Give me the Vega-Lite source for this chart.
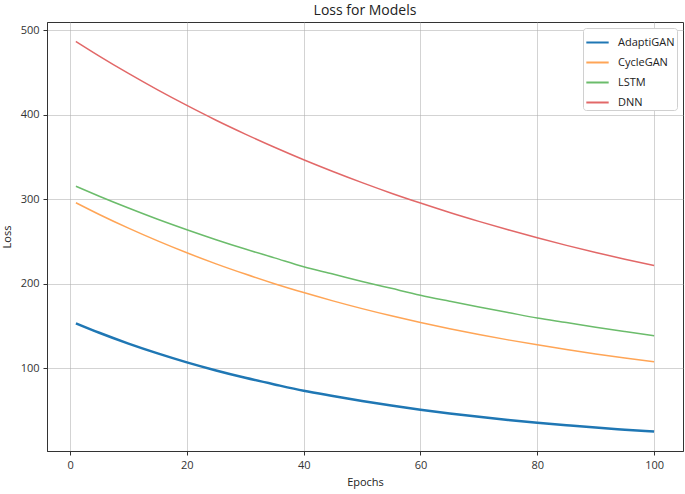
{
  "$schema": "https://vega.github.io/schema/vega-lite/v6.json",
  "autosize": "none",
  "width": 636,
  "height": 429,
  "padding": {"left": 47, "top": 22, "right": 2, "bottom": 43},
  "background": "white",
  "config": {
    "font": "Open Sans",
    "view": {"stroke": "#333", "strokeWidth": 1},
    "axis": {
      "gridColor": "#b0b0b0", "gridWidth": 0.8, "gridOpacity": 0.7,
      "domainColor": "#333", "tickColor": "#333", "tickSize": 4,
      "labelFontSize": 11, "labelColor": "#333", "labelFont": "Open Sans",
      "titleFontSize": 11, "titleFontWeight": "normal", "titleColor": "#222", "titleFont": "Open Sans"
    },
    "title": {"fontSize": 14, "fontWeight": "normal", "color": "#222", "font": "Open Sans", "offset": 4}
  },
  "title": "Loss for Models",
  "data": {"values": [
    {"epoch": 1, "model": "AdaptiGAN", "loss": 153.2},
    {"epoch": 5, "model": "AdaptiGAN", "loss": 142.0},
    {"epoch": 10, "model": "AdaptiGAN", "loss": 129.2},
    {"epoch": 15, "model": "AdaptiGAN", "loss": 117.6},
    {"epoch": 20, "model": "AdaptiGAN", "loss": 107.0},
    {"epoch": 25, "model": "AdaptiGAN", "loss": 97.4},
    {"epoch": 30, "model": "AdaptiGAN", "loss": 88.7},
    {"epoch": 35, "model": "AdaptiGAN", "loss": 80.8},
    {"epoch": 40, "model": "AdaptiGAN", "loss": 73.3},
    {"epoch": 45, "model": "AdaptiGAN", "loss": 67.1},
    {"epoch": 50, "model": "AdaptiGAN", "loss": 61.2},
    {"epoch": 55, "model": "AdaptiGAN", "loss": 55.8},
    {"epoch": 60, "model": "AdaptiGAN", "loss": 50.9},
    {"epoch": 65, "model": "AdaptiGAN", "loss": 46.5},
    {"epoch": 70, "model": "AdaptiGAN", "loss": 42.5},
    {"epoch": 75, "model": "AdaptiGAN", "loss": 38.8},
    {"epoch": 80, "model": "AdaptiGAN", "loss": 35.5},
    {"epoch": 85, "model": "AdaptiGAN", "loss": 32.5},
    {"epoch": 90, "model": "AdaptiGAN", "loss": 29.7},
    {"epoch": 95, "model": "AdaptiGAN", "loss": 27.3},
    {"epoch": 100, "model": "AdaptiGAN", "loss": 25.0},
    {"epoch": 1, "model": "CycleGAN", "loss": 296.0},
    {"epoch": 5, "model": "CycleGAN", "loss": 282.1},
    {"epoch": 10, "model": "CycleGAN", "loss": 265.9},
    {"epoch": 15, "model": "CycleGAN", "loss": 250.8},
    {"epoch": 20, "model": "CycleGAN", "loss": 236.7},
    {"epoch": 25, "model": "CycleGAN", "loss": 223.6},
    {"epoch": 30, "model": "CycleGAN", "loss": 211.5},
    {"epoch": 35, "model": "CycleGAN", "loss": 200.1},
    {"epoch": 40, "model": "CycleGAN", "loss": 189.6},
    {"epoch": 45, "model": "CycleGAN", "loss": 179.8},
    {"epoch": 50, "model": "CycleGAN", "loss": 170.6},
    {"epoch": 55, "model": "CycleGAN", "loss": 162.1},
    {"epoch": 60, "model": "CycleGAN", "loss": 154.2},
    {"epoch": 65, "model": "CycleGAN", "loss": 146.8},
    {"epoch": 70, "model": "CycleGAN", "loss": 140.0},
    {"epoch": 75, "model": "CycleGAN", "loss": 133.6},
    {"epoch": 80, "model": "CycleGAN", "loss": 127.7},
    {"epoch": 85, "model": "CycleGAN", "loss": 122.1},
    {"epoch": 90, "model": "CycleGAN", "loss": 117.0},
    {"epoch": 95, "model": "CycleGAN", "loss": 112.2},
    {"epoch": 100, "model": "CycleGAN", "loss": 107.8},
    {"epoch": 1, "model": "LSTM", "loss": 315.5},
    {"epoch": 5, "model": "LSTM", "loss": 303.7},
    {"epoch": 10, "model": "LSTM", "loss": 289.7},
    {"epoch": 15, "model": "LSTM", "loss": 276.4},
    {"epoch": 20, "model": "LSTM", "loss": 264.0},
    {"epoch": 25, "model": "LSTM", "loss": 252.2},
    {"epoch": 30, "model": "LSTM", "loss": 241.1},
    {"epoch": 35, "model": "LSTM", "loss": 230.7},
    {"epoch": 40, "model": "LSTM", "loss": 220.2},
    {"epoch": 45, "model": "LSTM", "loss": 211.6},
    {"epoch": 50, "model": "LSTM", "loss": 202.8},
    {"epoch": 55, "model": "LSTM", "loss": 194.6},
    {"epoch": 60, "model": "LSTM", "loss": 186.5},
    {"epoch": 65, "model": "LSTM", "loss": 179.4},
    {"epoch": 70, "model": "LSTM", "loss": 172.5},
    {"epoch": 75, "model": "LSTM", "loss": 166.0},
    {"epoch": 80, "model": "LSTM", "loss": 159.5},
    {"epoch": 85, "model": "LSTM", "loss": 154.1},
    {"epoch": 90, "model": "LSTM", "loss": 148.6},
    {"epoch": 95, "model": "LSTM", "loss": 143.5},
    {"epoch": 100, "model": "LSTM", "loss": 138.6},
    {"epoch": 1, "model": "DNN", "loss": 487.0},
    {"epoch": 5, "model": "DNN", "loss": 469.7},
    {"epoch": 10, "model": "DNN", "loss": 449.1},
    {"epoch": 15, "model": "DNN", "loss": 429.6},
    {"epoch": 20, "model": "DNN", "loss": 411.2},
    {"epoch": 25, "model": "DNN", "loss": 393.7},
    {"epoch": 30, "model": "DNN", "loss": 377.3},
    {"epoch": 35, "model": "DNN", "loss": 361.7},
    {"epoch": 40, "model": "DNN", "loss": 346.9},
    {"epoch": 45, "model": "DNN", "loss": 333.0},
    {"epoch": 50, "model": "DNN", "loss": 319.8},
    {"epoch": 55, "model": "DNN", "loss": 307.3},
    {"epoch": 60, "model": "DNN", "loss": 295.6},
    {"epoch": 65, "model": "DNN", "loss": 284.4},
    {"epoch": 70, "model": "DNN", "loss": 273.9},
    {"epoch": 75, "model": "DNN", "loss": 263.9},
    {"epoch": 80, "model": "DNN", "loss": 254.5},
    {"epoch": 85, "model": "DNN", "loss": 245.5},
    {"epoch": 90, "model": "DNN", "loss": 237.1},
    {"epoch": 95, "model": "DNN", "loss": 229.1},
    {"epoch": 100, "model": "DNN", "loss": 221.6}
  ]},
  "mark": {"type": "line", "interpolate": "monotone"},
  "encoding": {
    "x": {
      "field": "epoch", "type": "quantitative", "title": "Epochs",
      "scale": {"domain": [-3.95, 104.95], "nice": false, "zero": false},
      "axis": {"values": [0, 20, 40, 60, 80, 100], "titlePadding": 6, "labelPadding": 4}
    },
    "y": {
      "field": "loss", "type": "quantitative", "title": "Loss",
      "scale": {"domain": [2, 510], "nice": false, "zero": false},
      "axis": {"values": [100, 200, 300, 400, 500], "titlePadding": 8, "labelPadding": 4}
    },
    "color": {
      "field": "model", "type": "nominal",
      "scale": {"domain": ["AdaptiGAN", "CycleGAN", "LSTM", "DNN"], "range": ["#1f77b4", "#ffa556", "#6bbc6b", "#e26868"]},
      "legend": {
        "title": null, "orient": "top-right", "offset": 6,
        "symbolType": "stroke", "symbolSize": 500, "symbolStrokeWidth": 2,
        "labelFontSize": 11, "labelColor": "#222", "labelFont": "Open Sans", "labelOffset": 8,
        "rowPadding": 2, "padding": 2, "strokeColor": "#d0d0d0", "fillColor": "white", "cornerRadius": 3
      }
    },
    "strokeWidth": {"condition": {"test": "datum.model === 'AdaptiGAN'", "value": 2.5}, "value": 1.5}
  }
}
